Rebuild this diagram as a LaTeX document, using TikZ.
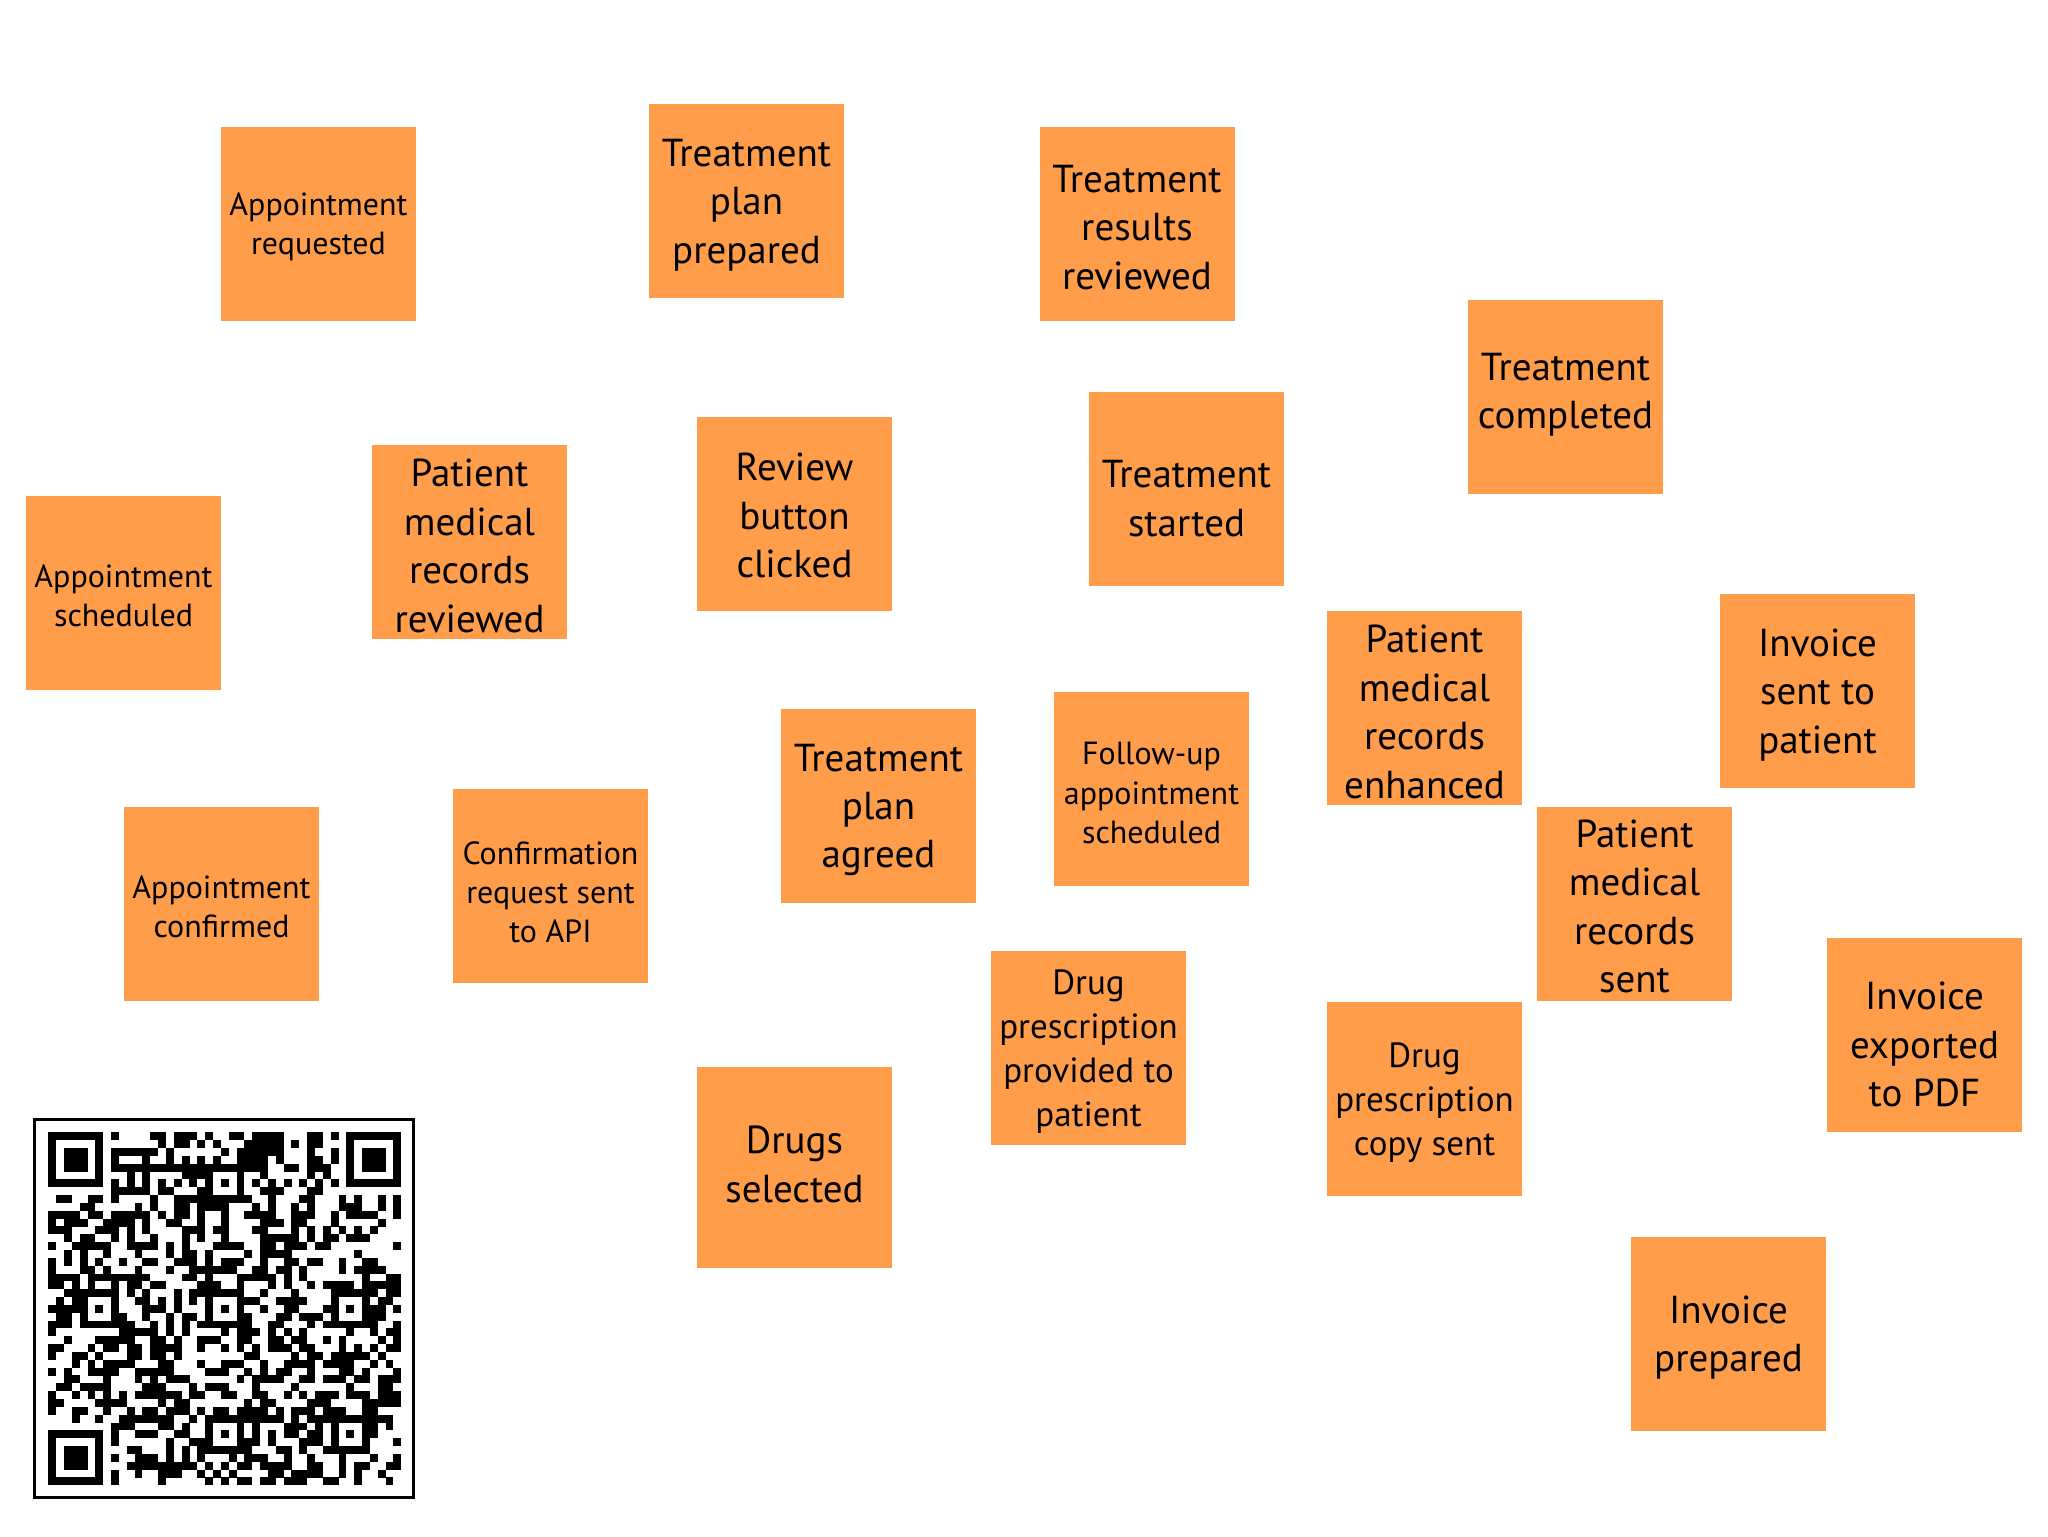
\documentclass[tikz,border=0pt]{standalone}
\usepackage{fontspec}
\setmainfont{PT Sans}
\definecolor{noteorange}{RGB}{255,157,74}
\newcommand\lgfont{\fontsize{19.5}{24.2}\selectfont}
\newcommand\mdfont{\fontsize{17.5}{22}\selectfont}
\newcommand\smfont{\fontsize{16}{19.6}\selectfont}
\tikzset{
  notebox/.style={fill=noteorange, draw=none, minimum width=97.5pt, minimum height=97pt,
    inner sep=0pt},
  notetext/.style={inner sep=0pt, align=center, text=black},
  big/.style={notetext, font=\lgfont},
  mid/.style={notetext, font=\mdfont},
  small/.style={notetext, font=\smfont},
  qrmod/.style={fill=black}
}
\begin{document}
\begin{tikzpicture}[x=0.5pt, y=-0.5pt]
\useasboundingbox (0,0) rectangle (2048,1536);
\fill[white] (0,0) rectangle (2048,1536);

% sticky notes: box, then text
\node[notebox] (apreq) at (318.5,224) {};
\node[small] (apreq-t) at (318.5,227) {Appointment\\requested};
\node[notebox] (tpp) at (746.5,201) {};
\node[big] (tpp-t) at (746.5,205) {Treatment\\plan\\prepared};
\node[notebox] (trr) at (1137,224) {};
\node[big] (trr-t) at (1137,227.5) {Treatment\\results\\reviewed};
\node[notebox] (tc) at (1565.5,397) {};
\node[big] (tc-t) at (1565.5,395) {Treatment\\completed};
\node[notebox] (apsch) at (123.5,593) {};
\node[small] (apsch-t) at (123.5,596) {Appointment\\scheduled};
\node[notebox] (pmrrev) at (469.5,542) {};
\node[big] (pmrrev-t) at (469.5,546) {Patient\\medical\\records\\reviewed};
\node[notebox] (rbc) at (794.5,513.5) {};
\node[big] (rbc-t) at (794.5,515.5) {Review\\button\\clicked};
\node[notebox] (ts) at (1186.5,488.5) {};
\node[big] (ts-t) at (1186.5,498.5) {Treatment\\started};
\node[notebox] (pmrenh) at (1424.5,708) {};
\node[big] (pmrenh-t) at (1424.5,712) {Patient\\medical\\records\\enhanced};
\node[notebox] (isp) at (1817.5,691) {};
\node[big] (isp-t) at (1817.5,695) {Invoice\\sent to\\patient};
\node[notebox] (apconf) at (221.5,903.5) {};
\node[small] (apconf-t) at (221.5,907) {Appointment\\confirmed};
\node[notebox] (conf) at (550.5,886) {};
\node[small] (conf-t) at (550.5,892) {Confirmation\\request sent\\to API};
\node[notebox] (tpa) at (878.5,805.5) {};
\node[big] (tpa-t) at (878.5,810) {Treatment\\plan\\agreed};
\node[notebox] (fup) at (1151.5,789) {};
\node[small] (fup-t) at (1151.5,793) {Follow-up\\appointment\\scheduled};
\node[notebox] (pmrsent) at (1634.5,903.5) {};
\node[big] (pmrsent-t) at (1634.5,906.5) {Patient\\medical\\records\\sent};
\node[notebox] (dpp) at (1088.5,1047.5) {};
\node[mid] (dpp-t) at (1088.5,1052) {Drug\\prescription\\provided to\\patient};
\node[notebox] (dpc) at (1424.5,1098.5) {};
\node[mid] (dpc-t) at (1424.5,1103) {Drug\\prescription\\copy sent};
\node[notebox] (iexp) at (1924.5,1035) {};
\node[big] (iexp-t) at (1924.5,1044.5) {Invoice\\exported\\to PDF};
\node[notebox, minimum height=100.5pt] (dsel) at (794.5,1167.5) {};
\node[big] (dsel-t) at (794.5,1164.5) {Drugs\\selected};
\node[notebox] (iprep) at (1728.5,1334) {};
\node[big] (iprep-t) at (1728.5,1337.5) {Invoice\\prepared};

% QR code (frame + modules)
\draw[line width=1.75pt] (34.5,1119.5) rectangle (413.5,1497.5);
\begin{scope}[shift={(48.3,1132.3)}]
  \def\m{7.844}
  \pgfmathsetseed{4711}
  \foreach \r in {0,...,44}{
    \foreach \c in {0,...,44}{
      \pgfmathsetmacro\v{rnd}
      \ifdim\v pt<0.5pt
        \fill[qrmod] ({\c*\m},{\r*\m}) rectangle ++(7.9,7.9);
      \fi
    }
  }
  % clear finder zones
  \fill[white] (0,0) rectangle ({8*\m},{8*\m});
  \fill[white] ({37*\m},0) rectangle ({45*\m},{8*\m});
  \fill[white] (0,{37*\m}) rectangle ({8*\m},{45*\m});
  % finders
  \foreach \fx/\fy in {0/0, 38/0, 0/38}{
    \fill[black] ({\fx*\m},{\fy*\m}) rectangle ++({7*\m},{7*\m});
    \fill[white] ({(\fx+1)*\m},{(\fy+1)*\m}) rectangle ++({5*\m},{5*\m});
    \fill[black] ({(\fx+2)*\m},{(\fy+2)*\m}) rectangle ++({3*\m},{3*\m});
  }
  % timing patterns
  \fill[white] ({8*\m},{6*\m}) rectangle ({37*\m},{7*\m});
  \fill[white] ({6*\m},{8*\m}) rectangle ({7*\m},{37*\m});
  \foreach \k in {8,10,...,36}{
    \fill[black] ({\k*\m},{6*\m}) rectangle ++(7.9,7.9);
    \fill[black] ({6*\m},{\k*\m}) rectangle ++(7.9,7.9);
  }
  % alignment patterns
  \foreach \ax/\ay in {22/6, 6/22, 22/22, 38/22, 22/38, 38/38}{
    \fill[black] ({(\ax-2)*\m},{(\ay-2)*\m}) rectangle ++({5*\m},{5*\m});
    \fill[white] ({(\ax-1)*\m},{(\ay-1)*\m}) rectangle ++({3*\m},{3*\m});
    \fill[black] ({\ax*\m},{\ay*\m}) rectangle ++(\m,\m);
  }
\end{scope}
\end{tikzpicture}
\end{document}
